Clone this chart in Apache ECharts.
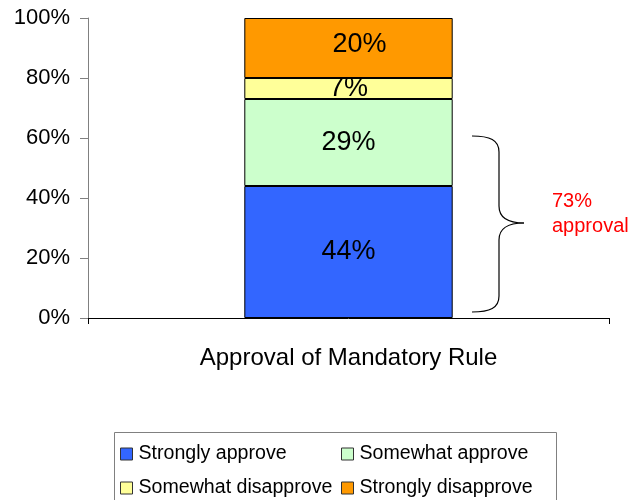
<!DOCTYPE html>
<html>
<head>
<meta charset="utf-8">
<script src="https://cdn.jsdelivr.net/npm/echarts@6/dist/echarts.min.js"></script>
<style>
  html, body { margin: 0; padding: 0; background: #fff; }
  #chart { width: 636px; height: 500px; }
</style>
</head>
<body>
<div id="chart"></div>
<script>
// Survey responses on the mandatory rule (percent of respondents)
const categories = ['Approval of Mandatory Rule'];
const seriesNames = ['Strongly approve', 'Somewhat approve', 'Somewhat disapprove', 'Strongly disapprove'];
const stronglyApprove = [44];
const somewhatApprove = [29];
const somewhatDisapprove = [7];
const stronglyDisapprove = [20];
const yTicks = [0, 20, 40, 60, 80, 100];
const approvalNote = '73%\napproval';

const FONT = '"Liberation Sans", Arial, Helvetica, sans-serif';
const colors = ['#3366FF', '#CCFFCC', '#FFFF99', '#FF9900'];
const values = [stronglyApprove, somewhatApprove, somewhatDisapprove, stronglyDisapprove];

const chart = echarts.init(document.getElementById('chart'), null, { renderer: 'canvas' });

const series = seriesNames.map((name, i) => ({
  name: name,
  type: 'bar',
  stack: 'total',
  barWidth: '40%',
  data: values[i],
  itemStyle: { color: colors[i], borderColor: '#000', borderWidth: 1 },
  label: {
    show: true,
    position: 'inside',
    formatter: '{c}%',
    color: '#000',
    fontFamily: FONT,
    fontSize: 27,
    offset: i === 3 ? [11, -3] : [0, 0]
  },
  emphasis: { disabled: true }
}));

// Legend laid out as a 2x2 grid: one legend component per cell
const legendCells = [
  { left: 120, top: 444 },  // Strongly approve
  { left: 341, top: 444 },  // Somewhat approve
  { left: 120, top: 478 },  // Somewhat disapprove
  { left: 341, top: 478 }   // Strongly disapprove
];
const legends = seriesNames.map((name, i) => ({
  left: legendCells[i].left,
  top: legendCells[i].top,
  padding: 0,
  data: [name],
  itemWidth: 12,
  itemHeight: 12,
  icon: 'rect',
  itemStyle: { borderColor: '#333', borderWidth: 1 },
  textStyle: { fontFamily: FONT, fontSize: 19.6, color: '#000', lineHeight: 14, padding: [0, 0, 0, 1] },
  selectedMode: false
}));

// Curly brace beside the two approval segments
const braceStyle = { fill: 'none', stroke: '#000', lineWidth: 1.2 };
const brace = [
  { type: 'bezierCurve', shape: { x1: 472, y1: 136, cpx1: 490, cpy1: 136, cpx2: 499, cpy2: 140, x2: 499, y2: 152 } },
  { type: 'line', shape: { x1: 499, y1: 152, x2: 499, y2: 206 } },
  { type: 'bezierCurve', shape: { x1: 499, y1: 206, cpx1: 499, cpy1: 217, cpx2: 506, cpy2: 223, x2: 524, y2: 223 } },
  { type: 'bezierCurve', shape: { x1: 524, y1: 223, cpx1: 506, cpy1: 223, cpx2: 499, cpy2: 229, x2: 499, y2: 240 } },
  { type: 'line', shape: { x1: 499, y1: 240, x2: 499, y2: 296 } },
  { type: 'bezierCurve', shape: { x1: 499, y1: 296, cpx1: 499, cpy1: 308, cpx2: 490, cpy2: 312, x2: 472, y2: 312 } }
].map(el => Object.assign(el, { style: braceStyle, silent: true }));

chart.setOption({
  animation: false,
  backgroundColor: '#fff',
  grid: { left: 88, right: 27, top: 18, bottom: 182, containLabel: false },
  xAxis: {
    type: 'category',
    data: categories,
    axisLine: { show: true, lineStyle: { color: '#000', width: 1 } },
    axisTick: { show: true, length: 6, lineStyle: { color: '#000' } },
    axisLabel: { show: true, margin: 28, fontFamily: FONT, fontSize: 24, color: '#000' }
  },
  yAxis: {
    type: 'value',
    min: yTicks[0],
    max: yTicks[yTicks.length - 1],
    interval: yTicks[1] - yTicks[0],
    axisLine: { show: true, lineStyle: { color: '#808080', width: 1 } },
    axisTick: { show: true, length: 8, lineStyle: { color: '#808080' } },
    splitLine: { show: false },
    axisLabel: { formatter: '{value}%', margin: 18, fontFamily: FONT, fontSize: 22, color: '#000' }
  },
  legend: legends,
  graphic: [
    {
      type: 'rect',
      shape: { x: 114.5, y: 432.5, width: 442, height: 90 },
      style: { fill: 'none', stroke: '#808080', lineWidth: 1 },
      silent: true
    },
    ...brace,
    {
      type: 'text',
      left: 552,
      top: 189,
      style: {
        text: approvalNote,
        fill: '#FF0000',
        fontFamily: FONT,
        fontSize: 20,
        lineHeight: 25
      },
      silent: true
    }
  ],
  series: series
});
</script>
</body>
</html>
